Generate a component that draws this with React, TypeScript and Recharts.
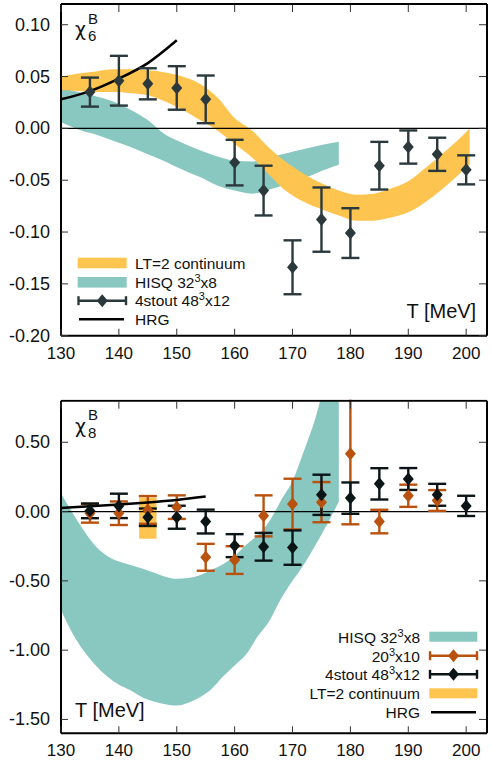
import {
  ComposedChart,
  Area,
  Line,
  Scatter,
  ErrorBar,
  XAxis,
  YAxis,
  ReferenceLine,
  ReferenceArea,
} from "recharts";

const FONT = "'Liberation Sans', Arial, Helvetica, sans-serif";
const GREEK = "'DejaVu Sans', 'Liberation Sans', sans-serif";
const ORANGE = "#fec450";
const TEAL = "#89c7c1";
const SLATE = "#2b393d";
const INK = "#0c1516";
const BROWN = "#b9520e";

// ---------- chi_6^B (upper panel) ----------
const band6T = [
  130, 133, 136, 139, 142, 145, 148, 151, 154, 157, 160, 163, 166, 169, 172,
  175, 178, 181, 184, 187, 190, 193, 196, 199, 200.6,
];
// HISQ 32^3x8 band, ends at T = 178
const hisq6Low = [
  0.006, -0.001, -0.006, -0.012, -0.018, -0.025, -0.032, -0.04, -0.047, -0.055,
  -0.06, -0.063, -0.059, -0.054, -0.048, -0.041, -0.035,
];
const hisq6High = [
  0.039, 0.035, 0.031, 0.026, 0.018, 0.008, -0.006, -0.014, -0.021, -0.027,
  -0.031, -0.032, -0.028, -0.024, -0.02, -0.016, -0.013,
];
// LT=2 continuum band
const lt2Low = [
  0.037, 0.036, 0.035, 0.035, 0.034, 0.032, 0.026, 0.018, 0.008, -0.002,
  -0.015, -0.028, -0.045, -0.061, -0.071, -0.078, -0.084, -0.089, -0.089,
  -0.086, -0.081, -0.071, -0.058, -0.043, -0.035,
];
const lt2High = [
  0.05, 0.053, 0.055, 0.057, 0.057, 0.056, 0.054, 0.05, 0.043, 0.03, 0.01,
  -0.002, -0.019, -0.033, -0.044, -0.053, -0.06, -0.064, -0.063, -0.058,
  -0.051, -0.038, -0.024, -0.009, 0.0,
];
// 4stout 48^3x12
const stoutT = [135, 140, 145, 150, 155, 160, 165, 170, 175, 180, 185, 190, 195, 200];
const stout6 = [
  0.035, 0.046, 0.043, 0.039, 0.028, -0.033, -0.06, -0.134, -0.088, -0.101,
  -0.036, -0.018, -0.025, -0.04,
];
const stout6Err = [
  0.014, 0.024, 0.015, 0.021, 0.023, 0.022, 0.024, 0.026, 0.031, 0.024, 0.023,
  0.016, 0.016, 0.014,
];
// HRG
const hrg6T = [130, 135, 140, 145, 150];
const hrg6 = [0.028, 0.036, 0.048, 0.063, 0.085];

// ---------- chi_8^B (lower panel) ----------
const band8T = [
  130, 132, 134, 136, 138, 140, 142, 144, 146, 148, 150, 152, 154, 156, 158,
  160, 162, 164, 166, 168, 170, 172, 174, 176, 178,
];
const hisq8Low = [
  -0.71, -0.88, -1.01, -1.11, -1.19, -1.25, -1.29, -1.34, -1.37, -1.39, -1.4,
  -1.38, -1.34, -1.28, -1.19, -1.11, -1.03, -0.9, -0.79, -0.63, -0.5, -0.38,
  -0.24, -0.09, 0.07,
];
const hisq8High = [
  0.13, -0.01, -0.14, -0.25, -0.32, -0.36, -0.385, -0.41, -0.44, -0.47, -0.485,
  -0.48, -0.46, -0.42, -0.38, -0.32, -0.24, -0.17, -0.07, 0.08, 0.22, 0.44,
  0.68, 1.0, 1.3,
];
const stout8 = [
  0.005, 0.041, -0.041, -0.041, -0.072, -0.246, -0.254, -0.26, 0.121, 0.097,
  0.2, 0.235, 0.121, 0.041,
];
const stout8Err = [
  0.053, 0.088, 0.063, 0.083, 0.086, 0.083, 0.1, 0.124, 0.145, 0.113, 0.113,
  0.079, 0.079, 0.073,
];
const n10T = [135, 140, 145, 150, 155, 160, 165, 170, 175, 180, 185, 190, 195];
const n10 = [
  -0.012, -0.012, 0.012, 0.032, -0.33, -0.35, -0.031, 0.054, 0.068, 0.418,
  -0.072, 0.114, 0.08,
];
const n10Err = [
  0.068, 0.085, 0.1, 0.085, 0.097, 0.1, 0.148, 0.183, 0.145, 0.51, 0.085, 0.08,
  0.075,
];
const lt2RectT = [143.5, 146.5];
const lt2RectY = [-0.196, 0.101];
const hrg8T = [130, 135, 140, 145, 150, 155];
const hrg8 = [0.026, 0.038, 0.051, 0.066, 0.084, 0.108];

const xTicks = [130, 140, 150, 160, 170, 180, 190, 200];
const y6Ticks = [-0.2, -0.15, -0.1, -0.05, 0, 0.05, 0.1];
const y8Ticks = [-1.5, -1.0, -0.5, 0, 0.5];
const xDomain = [130, 203.6];

const band6 = band6T.map((T, i) => ({
  T,
  hisq: hisq6Low[i] == null ? null : [hisq6Low[i], hisq6High[i]],
  lt2: [lt2Low[i], lt2High[i]],
}));
const band8 = band8T.map((T, i) => ({ T, hisq: [hisq8Low[i], hisq8High[i]] }));
const pts = (xs: number[], ys: number[], es?: number[]) =>
  xs.map((T, i) => ({ T, y: ys[i], err: es ? es[i] : 0 }));

// tick marks point into the frame, labels sit outside
const BottomTick = ({ x, y, payload }: any) => (
  <g>
    <line x1={x} x2={x} y1={y} y2={y - 7} stroke="#333" />
    <text x={x} y={y + 23} textAnchor="middle" fontSize={17} fontFamily={FONT} fill="#111">
      {payload.value}
    </text>
  </g>
);
const TopTick = ({ x, y }: any) => <line x1={x} x2={x} y1={y + 1} y2={y + 8} stroke="#333" />;
const LeftTick = ({ x, y, payload }: any) => (
  <g>
    <line x1={x} x2={x + 7} y1={y} y2={y} stroke="#333" />
    <text x={x - 11} y={y + 6} textAnchor="end" fontSize={18} fontFamily={FONT} fill="#111">
      {Number(payload.value).toFixed(2)}
    </text>
  </g>
);
const RightTick = ({ x, y }: any) => <line x1={x - 1} x2={x - 8} y1={y} y2={y} stroke="#333" />;

const diamond = (color: string) => (props: any) => {
  const { cx, cy } = props;
  return (
    <path
      d={`M${cx},${cy - 6.5}L${cx + 5.5},${cy}L${cx},${cy + 6.5}L${cx - 5.5},${cy}Z`}
      fill={color}
    />
  );
};

// a boxed frame: labelled axes bottom/left, tick-only axes top/right
// (top/right axes get 1px so recharts still draws them)
function PanelAxes(yDomain: number[], yTicks: number[], bottomH: number) {
  const frame = { stroke: "#000", strokeWidth: 2 };
  return [
    <XAxis
      key="xb"
      dataKey="T"
      type="number"
      domain={xDomain}
      ticks={xTicks}
      interval={0}
      height={bottomH}
      tickSize={0}
      tickMargin={0}
      tickLine={false}
      axisLine={frame}
      tick={<BottomTick />}
      allowDataOverflow
    />,
    <XAxis
      key="xt"
      xAxisId="top"
      orientation="top"
      dataKey="T"
      type="number"
      domain={xDomain}
      ticks={xTicks}
      interval={0}
      height={1}
      tickSize={0}
      tickMargin={0}
      tickLine={false}
      axisLine={frame}
      tick={<TopTick />}
      allowDataOverflow
    />,
    <YAxis
      key="yl"
      type="number"
      domain={yDomain}
      ticks={yTicks}
      interval={0}
      width={61}
      tickSize={0}
      tickMargin={0}
      tickLine={false}
      axisLine={frame}
      tick={<LeftTick />}
      allowDataOverflow
    />,
    <YAxis
      key="yr"
      yAxisId="right"
      orientation="right"
      type="number"
      domain={yDomain}
      ticks={yTicks}
      interval={0}
      width={1}
      tickSize={0}
      tickMargin={0}
      tickLine={false}
      axisLine={frame}
      tick={<RightTick />}
      allowDataOverflow
    />,
  ];
}

function Chi6Chart() {
  return (
    <ComposedChart
      width={492}
      height={370}
      data={band6}
      margin={{ top: 3, right: 4, bottom: 0, left: 0 }}
    >
      {PanelAxes([-0.2, 0.12], y6Ticks, 34.3)}
      <ReferenceLine y={0} stroke="#000" strokeWidth={1.3} />
      <Area
        dataKey="hisq"
        type="monotone"
        stroke="none"
        fill={TEAL}
        fillOpacity={1}
        isAnimationActive={false}
      />
      <Area
        dataKey="lt2"
        type="monotone"
        stroke="none"
        fill={ORANGE}
        fillOpacity={1}
        isAnimationActive={false}
      />
      <Line
        data={pts(hrg6T, hrg6)}
        dataKey="y"
        type="monotone"
        stroke="#000"
        strokeWidth={2.5}
        dot={false}
        isAnimationActive={false}
      />
      <Scatter
        data={pts(stoutT, stout6, stout6Err)}
        dataKey="y"
        shape={diamond(SLATE)}
        isAnimationActive={false}
      >
        <ErrorBar
          dataKey="err"
          direction="y"
          width={9}
          stroke={SLATE}
          strokeWidth={2.4}
          isAnimationActive={false}
        />
      </Scatter>
    </ComposedChart>
  );
}

function Chi8Chart() {
  return (
    <ComposedChart
      width={492}
      height={394}
      data={band8}
      margin={{ top: 29.7, right: 4, bottom: 0, left: 0 }}
    >
      {PanelAxes([-1.6, 0.8], y8Ticks, 30.7)}
      <ReferenceLine y={0} stroke="#000" strokeWidth={1.3} />
      <Area
        dataKey="hisq"
        type="monotone"
        stroke="none"
        fill={TEAL}
        fillOpacity={1}
        isAnimationActive={false}
      />
      <ReferenceArea
        x1={lt2RectT[0]}
        x2={lt2RectT[1]}
        y1={lt2RectY[0]}
        y2={lt2RectY[1]}
        fill={ORANGE}
        fillOpacity={1}
        stroke="none"
      />
      <Scatter
        data={pts(n10T, n10, n10Err)}
        dataKey="y"
        shape={diamond(BROWN)}
        isAnimationActive={false}
      >
        <ErrorBar
          dataKey="err"
          direction="y"
          width={9}
          stroke={BROWN}
          strokeWidth={2.4}
          isAnimationActive={false}
        />
      </Scatter>
      <Scatter
        data={pts(stoutT, stout8, stout8Err)}
        dataKey="y"
        shape={diamond(INK)}
        isAnimationActive={false}
      >
        <ErrorBar
          dataKey="err"
          direction="y"
          width={9}
          stroke={INK}
          strokeWidth={2.4}
          isAnimationActive={false}
        />
      </Scatter>
      <Line
        data={pts(hrg8T, hrg8)}
        dataKey="y"
        type="monotone"
        stroke="#000"
        strokeWidth={2.5}
        dot={false}
        isAnimationActive={false}
      />
    </ComposedChart>
  );
}

const Cube = ({ base }: { base: string }) => (
  <>
    {base}
    <tspan fontSize={11} dy={-6}>
      3
    </tspan>
    <tspan dy={6}>x</tspan>
  </>
);

function ErrKey({ x1, x2, y, color }: { x1: number; x2: number; y: number; color: string }) {
  const cx = (x1 + x2) / 2;
  return (
    <g stroke={color} strokeWidth={2.4}>
      <line x1={x1} x2={x2} y1={y} y2={y} />
      <line x1={x1} x2={x1} y1={y - 4.5} y2={y + 4.5} />
      <line x1={x2} x2={x2} y1={y - 4.5} y2={y + 4.5} />
      <path
        d={`M${cx},${y - 6.5}L${cx + 5.5},${y}L${cx},${y + 6.5}L${cx - 5.5},${y}Z`}
        fill={color}
        stroke="none"
      />
    </g>
  );
}

function Labels() {
  const fs = 15.5;
  return (
    <svg
      width={492}
      height={764}
      style={{ position: "absolute", left: 0, top: 0, pointerEvents: "none" }}
      fontFamily={FONT}
      fill="#111"
    >
      {/* the 20^3x10 bar at 180 MeV runs out of the lower frame: hide the overflow */}
      <rect x={0} y={370} width={492} height={29.6} fill="#fff" />

      {/* upper panel */}
      <text x={75} y={36} fontSize={19} fontFamily={GREEK}>χ</text>
      <text x={88} y={23.5} fontSize={15}>B</text>
      <text x={88} y={41} fontSize={15}>6</text>
      <text x={406.5} y={317.5} fontSize={20}>T [MeV]</text>

      <rect x={77.7} y={257.7} width={49} height={10.6} fill={ORANGE} />
      <text x={135} y={268.5} fontSize={fs}>LT=2 continuum</text>
      <rect x={77.7} y={277} width={49} height={10.6} fill={TEAL} />
      <text x={135} y={287.8} fontSize={fs}>
        <Cube base="HISQ 32" />8
      </text>
      <ErrKey x1={78.5} x2={126} y={300.7} color={SLATE} />
      <text x={135} y={306.3} fontSize={fs}>
        <Cube base="4stout 48" />12
      </text>
      <line x1={79} x2={124} y1={319.3} y2={319.3} stroke="#000" strokeWidth={2.5} />
      <text x={135} y={325} fontSize={fs}>HRG</text>

      {/* lower panel */}
      <text x={75} y={433} fontSize={19} fontFamily={GREEK}>χ</text>
      <text x={88} y={419.5} fontSize={15}>B</text>
      <text x={88} y={437.5} fontSize={15}>8</text>
      <text x={75} y={716.7} fontSize={20}>T [MeV]</text>

      <text x={420} y={642.5} fontSize={fs} textAnchor="end">
        <Cube base="HISQ 32" />8
      </text>
      <rect x={429.3} y={631.7} width={48} height={10} fill={TEAL} />
      <text x={420} y={661.5} fontSize={fs} textAnchor="end">
        <Cube base="20" />10
      </text>
      <ErrKey x1={430} x2={477} y={655.7} color={BROWN} />
      <text x={420} y={680} fontSize={fs} textAnchor="end">
        <Cube base="4stout 48" />12
      </text>
      <ErrKey x1={430} x2={477} y={674.3} color={INK} />
      <text x={420} y={699} fontSize={fs} textAnchor="end">LT=2 continuum</text>
      <rect x={429.3} y={688.3} width={48} height={10} fill={ORANGE} />
      <text x={420} y={718} fontSize={fs} textAnchor="end">HRG</text>
      <line x1={431} x2={476} y1={712.3} y2={712.3} stroke="#000" strokeWidth={2.5} />
    </svg>
  );
}

export default function App() {
  return (
    <div style={{ position: "absolute", left: 0, top: 0, width: 492, height: 764, background: "#fff" }}>
      <div style={{ position: "absolute", left: 0, top: 0 }}>
        <Chi6Chart />
      </div>
      <div style={{ position: "absolute", left: 0, top: 370 }}>
        <Chi8Chart />
      </div>
      <Labels />
    </div>
  );
}
